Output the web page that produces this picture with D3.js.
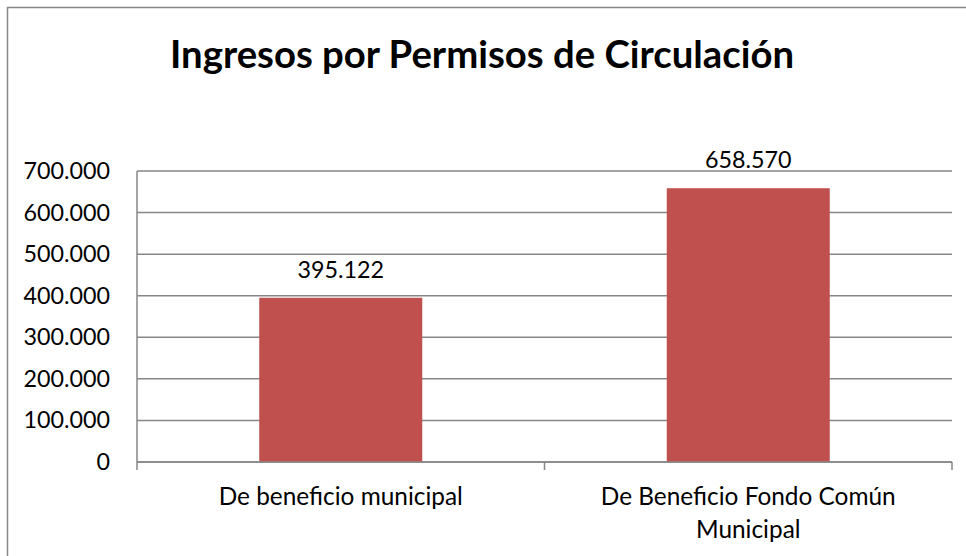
<!DOCTYPE html>
<html>
<head>
<meta charset="utf-8">
<script src="https://cdn.jsdelivr.net/npm/d3@7"></script>
<style>
  body { margin: 0; background: #fff; }
  svg { display: block; }
  text { font-family: Lato, "Open Sans", sans-serif; fill: #000; }
</style>
</head>
<body>
<div id="chart"></div>
<script>
// chart data
var title = "Ingresos por Permisos de Circulación";
var categories = ["De beneficio municipal", "De Beneficio Fondo Común Municipal"];
var categoryLines = [["De beneficio municipal"], ["De Beneficio Fondo Común", "Municipal"]];
var values = [395122, 658570];
var yTicks = [0, 100000, 200000, 300000, 400000, 500000, 600000, 700000];

var W = 966, H = 556;
var plot = { left: 137, right: 952, top: 171, bottom: 462 };
var barColor = "#C0504D";
var gridColor = "#878787";

// 700.000 style thousands separator
var fmt = function (v) {
    return d3.format(",")(v).replace(/,/g, ".");
};

var svg = d3.select("#chart").append("svg")
    .attr("width", W)
    .attr("height", H);

// outer border (runs past the right and bottom edge)
svg.append("rect")
    .attr("x", 7.5).attr("y", 7.5)
    .attr("width", W + 20).attr("height", H + 20)
    .attr("fill", "none")
    .attr("stroke", gridColor)
    .attr("stroke-width", 1.5);

svg.append("text")
    .attr("x", 482).attr("y", 68)
    .attr("text-anchor", "middle")
    .attr("font-size", 38.3)
    .attr("font-weight", "bold")
    .text(title);

var x = d3.scaleBand()
    .domain(categories)
    .range([plot.left, plot.right])
    .paddingInner(0.6)
    .paddingOuter(0.3);

var y = d3.scaleLinear()
    .domain([0, 700000])
    .range([plot.bottom, plot.top]);

// gridlines
svg.append("g")
    .selectAll("line")
    .data(yTicks)
    .join("line")
    .attr("x1", plot.left).attr("x2", plot.right)
    .attr("y1", function (d) { return y(d); })
    .attr("y2", function (d) { return y(d); })
    .attr("stroke", gridColor)
    .attr("stroke-width", 1.5);

// y tick labels
svg.append("g")
    .selectAll("text")
    .data(yTicks)
    .join("text")
    .attr("x", 110)
    .attr("y", function (d) { return y(d) + 8; })
    .attr("text-anchor", "end")
    .attr("font-size", 23.3)
    .text(fmt);

// bars
svg.append("g")
    .selectAll("rect")
    .data(values)
    .join("rect")
    .attr("x", function (d, i) { return x(categories[i]); })
    .attr("y", function (d) { return y(d); })
    .attr("width", x.bandwidth())
    .attr("height", function (d) { return y(0) - y(d); })
    .attr("fill", barColor);

// value labels
svg.append("g")
    .selectAll("text")
    .data(values)
    .join("text")
    .attr("x", function (d, i) { return x(categories[i]) + x.bandwidth() / 2; })
    .attr("y", function (d) { return y(d) - 20; })
    .attr("text-anchor", "middle")
    .attr("font-size", 23.3)
    .text(fmt);

// x axis with ticks between categories
var xa = svg.append("g")
    .attr("transform", "translate(0," + plot.bottom + ")");
xa.append("line")
    .attr("x1", plot.left).attr("x2", plot.right)
    .attr("stroke", gridColor).attr("stroke-width", 1.5);
var step = (plot.right - plot.left) / categories.length;
xa.selectAll("line.tick")
    .data(d3.range(categories.length + 1))
    .join("line")
    .attr("class", "tick")
    .attr("x1", function (d) { return plot.left + d * step; })
    .attr("x2", function (d) { return plot.left + d * step; })
    .attr("y1", 0).attr("y2", 8)
    .attr("stroke", gridColor).attr("stroke-width", 1.5);

// y axis line
svg.append("line")
    .attr("x1", plot.left).attr("x2", plot.left)
    .attr("y1", plot.top).attr("y2", plot.bottom)
    .attr("stroke", gridColor).attr("stroke-width", 1.5);

// category labels
var cl = svg.append("g")
    .selectAll("text")
    .data(categories)
    .join("text")
    .attr("text-anchor", "middle")
    .attr("font-size", 24.4)
    .attr("y", 505);
cl.each(function (d, i) {
    var cx = x(d) + x.bandwidth() / 2;
    d3.select(this).selectAll("tspan")
        .data(categoryLines[i])
        .join("tspan")
        .attr("x", cx)
        .attr("dy", function (t, j) { return j === 0 ? 0 : 33; })
        .text(function (t) { return t; });
});
</script>
</body>
</html>
